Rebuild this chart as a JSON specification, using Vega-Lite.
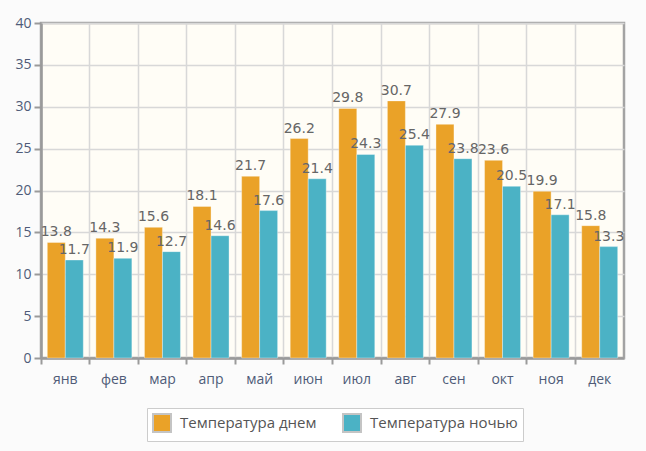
{
  "$schema": "https://vega.github.io/schema/vega-lite/v6.json",
  "width": 583,
  "height": 335,
  "autosize": {"type": "none"},
  "padding": {"left": 41, "top": 23, "right": 22, "bottom": 93},
  "background": "#fbfbfb",
  "config": {
    "view": {"fill": "#fffdf6", "stroke": "#a3a3a3", "strokeWidth": 2.5},
    "font": "DejaVu Sans"
  },
  "data": {
    "values": [
      {"month": "янв", "series": "Температура днем", "value": 13.8},
      {"month": "фев", "series": "Температура днем", "value": 14.3},
      {"month": "мар", "series": "Температура днем", "value": 15.6},
      {"month": "апр", "series": "Температура днем", "value": 18.1},
      {"month": "май", "series": "Температура днем", "value": 21.7},
      {"month": "июн", "series": "Температура днем", "value": 26.2},
      {"month": "июл", "series": "Температура днем", "value": 29.8},
      {"month": "авг", "series": "Температура днем", "value": 30.7},
      {"month": "сен", "series": "Температура днем", "value": 27.9},
      {"month": "окт", "series": "Температура днем", "value": 23.6},
      {"month": "ноя", "series": "Температура днем", "value": 19.9},
      {"month": "дек", "series": "Температура днем", "value": 15.8},
      {"month": "янв", "series": "Температура ночью", "value": 11.7},
      {"month": "фев", "series": "Температура ночью", "value": 11.9},
      {"month": "мар", "series": "Температура ночью", "value": 12.7},
      {"month": "апр", "series": "Температура ночью", "value": 14.6},
      {"month": "май", "series": "Температура ночью", "value": 17.6},
      {"month": "июн", "series": "Температура ночью", "value": 21.4},
      {"month": "июл", "series": "Температура ночью", "value": 24.3},
      {"month": "авг", "series": "Температура ночью", "value": 25.4},
      {"month": "сен", "series": "Температура ночью", "value": 23.8},
      {"month": "окт", "series": "Температура ночью", "value": 20.5},
      {"month": "ноя", "series": "Температура ночью", "value": 17.1},
      {"month": "дек", "series": "Температура ночью", "value": 13.3}
    ]
  },
  "encoding": {
    "x": {
      "field": "month",
      "type": "nominal",
      "sort": ["янв","фев","мар","апр","май","июн","июл","авг","сен","окт","ноя","дек"],
      "scale": {"paddingInner": 0, "paddingOuter": 0},
      "axis": {
        "title": null,
        "bandPosition": 0,
        "labelAngle": 0,
        "labelFont": "Open Sans",
        "labelFontSize": 14,
        "labelColor": "#4f5b78",
        "labelPadding": 8,
        "tickColor": "#9a9a9a",
        "tickWidth": 2,
        "tickSize": 6,
        "domainColor": "#9a9a9a",
        "domainWidth": 2.5,
        "grid": true,
        "gridColor": "#d8d8d8",
        "gridWidth": 1.5
      }
    },
    "xOffset": {
      "field": "series",
      "type": "nominal",
      "scale": {"paddingInner": 0, "paddingOuter": 0.35}
    },
    "y": {
      "field": "value",
      "type": "quantitative",
      "scale": {"domain": [0, 40], "nice": false},
      "axis": {
        "title": null,
        "values": [0,5,10,15,20,25,30,35,40],
        "labelFont": "Open Sans",
        "labelFontSize": 14,
        "labelColor": "#4f5b78",
        "labelPadding": 3,
        "tickColor": "#9a9a9a",
        "tickWidth": 2,
        "tickSize": 7,
        "domainColor": "#9a9a9a",
        "domainWidth": 2.5,
        "grid": true,
        "gridColor": "#d8d8d8",
        "gridWidth": 1.5
      }
    }
  },
  "layer": [
    {
      "mark": {"type": "bar", "strokeWidth": 1, "strokeOpacity": 0.35, "stroke": "#ffffff"},
      "encoding": {
        "color": {
          "field": "series",
          "type": "nominal",
          "scale": {"domain": ["Температура днем", "Температура ночью"], "range": ["#eaa228", "#4bb2c5"]},
          "legend": {
            "title": null,
            "orient": "none",
            "direction": "horizontal",
            "legendX": 106,
            "legendY": 385,
            "fillColor": "#ffffff",
            "strokeColor": "#cccccc",
            "padding": 5,
            "symbolType": "square",
            "symbolSize": 324,
            "symbolStrokeColor": "#c4c4c4",
            "symbolStrokeWidth": 2,
            "symbolOpacity": 1,
            "labelFont": "Open Sans",
            "labelFontSize": 15,
            "labelColor": "#555555",
            "labelOffset": 8,
            "columnPadding": 22,
            "labelLimit": 300
          }
        }
      }
    },
    {
      "mark": {"type": "text", "baseline": "bottom", "dy": -3, "font": "DejaVu Sans", "fontSize": 14, "color": "#666666"},
      "encoding": {
        "text": {"field": "value", "type": "quantitative", "format": ".1f"}
      }
    }
  ]
}
